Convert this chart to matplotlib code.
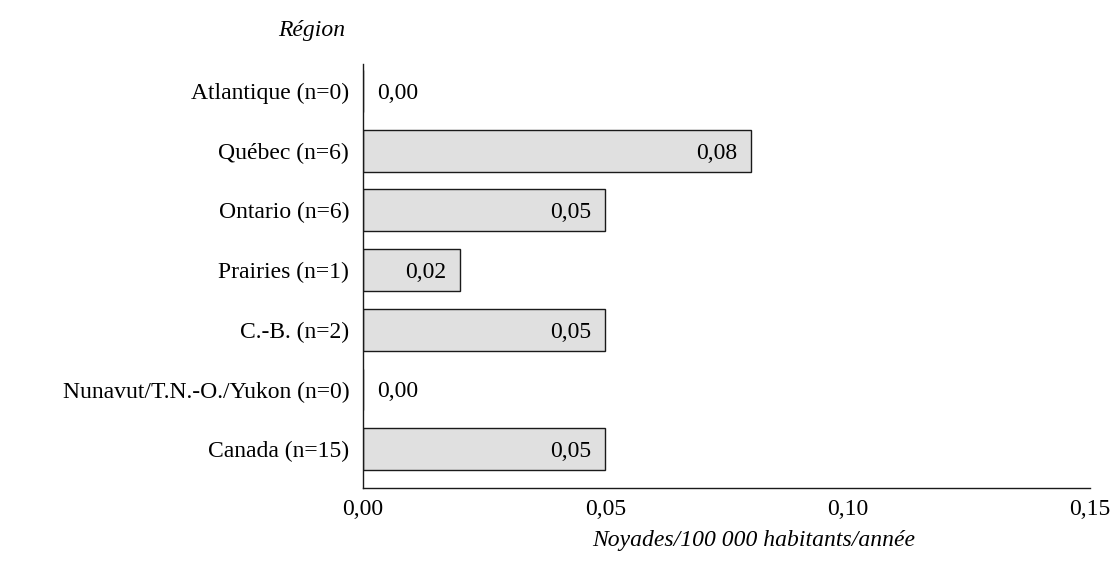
import matplotlib

matplotlib.use("Agg")

import matplotlib.pyplot as plt

REGIONS = [
    "Atlantique (n=0)",
    "Québec (n=6)",
    "Ontario (n=6)",
    "Prairies (n=1)",
    "C.-B. (n=2)",
    "Nunavut/T.N.-O./Yukon (n=0)",
    "Canada (n=15)",
]
RATES = [0.00, 0.08, 0.05, 0.02, 0.05, 0.00, 0.05]
X_TICKS = [0.00, 0.05, 0.10, 0.15]

FONT = ["Liberation Serif", "DejaVu Serif"]
FS = 17


def fr(v):
    return f"{v:.2f}".replace(".", ",")


def main():
    plt.rcParams["font.family"] = FONT
    fig = plt.figure(figsize=(11.16, 5.63), dpi=100)
    ax = fig.add_axes([0.3253, 0.1332, 0.6514, 0.7531])

    ypos = list(range(len(REGIONS)))
    ax.barh(ypos, RATES, height=0.7, color="#e0e0e0", edgecolor="#1a1a1a", linewidth=1.0)

    for y, v in zip(ypos, RATES):
        if v > 0:
            ax.annotate(fr(v), (v, y), xytext=(-10, 0), textcoords="offset points",
                        ha="right", va="center_baseline", fontsize=FS)
        else:
            ax.annotate(fr(v), (0, y), xytext=(10, 0), textcoords="offset points",
                        ha="left", va="center_baseline", fontsize=FS)

    ax.set_xlim(0, 0.15)
    ax.set_ylim(len(REGIONS) - 0.35, -0.45)
    ax.set_yticks(ypos)
    ax.set_yticklabels(REGIONS, fontsize=FS)
    ax.set_xticks(X_TICKS)
    ax.set_xticklabels([fr(t) for t in X_TICKS], fontsize=FS)
    ax.tick_params(axis="y", length=0, pad=10)
    ax.tick_params(axis="x", length=0, pad=8)

    for side in ["top", "right"]:
        ax.spines[side].set_visible(False)
    for side in ["left", "bottom"]:
        ax.spines[side].set_linewidth(1.0)
        ax.spines[side].set_color("#1a1a1a")

    fig.text(0.309, 0.945, "Région", ha="right", va="center", fontsize=FS, style="italic")
    fig.text(0.675, 0.04, "Noyades/100 000 habitants/année", ha="center", va="center",
             fontsize=FS, style="italic")

    fig.savefig("out.png", dpi=100)
    plt.close(fig)


if __name__ == "__main__":
    main()
